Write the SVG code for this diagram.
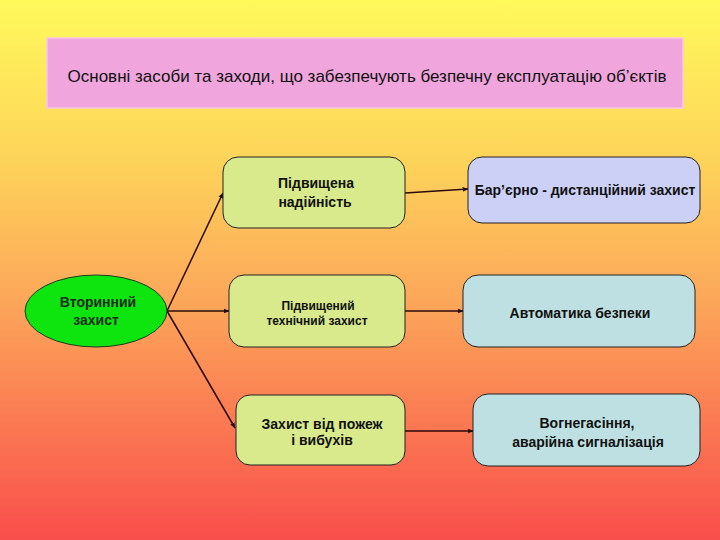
<svg xmlns="http://www.w3.org/2000/svg" width="720" height="540" viewBox="0 0 720 540">
<defs>
<linearGradient id="bg" x1="0" y1="0" x2="0" y2="1">
<stop offset="0" stop-color="#FFFA5C"/>
<stop offset="0.3" stop-color="#FDD35A"/>
<stop offset="0.55" stop-color="#FCA85A"/>
<stop offset="1" stop-color="#F94E4C"/>
</linearGradient>
<marker id="ah" viewBox="0 0 10 10" refX="9" refY="5" markerWidth="6" markerHeight="6" orient="auto" markerUnits="userSpaceOnUse">
<path d="M0,1 L10,5 L0,9 z" fill="#2a0a0a"/>
</marker>
<style>
text{font-family:"Liberation Sans",Arial,sans-serif;fill:#111;text-anchor:middle}
.b{font-weight:bold;font-size:14px}
.box{stroke:#222;stroke-width:1}
.g{fill:#D8EA8C}
.c{stroke:#2a0a0a;stroke-width:1.5;fill:none;marker-end:url(#ah)}
</style>
</defs>
<rect width="720" height="540" fill="url(#bg)"/>
<g id="title">
<rect x="47" y="38" width="636" height="70" fill="#F0A5DD" stroke="#F6C8E8" stroke-width="1.5"/>
<text x="367" y="82" style="font-size:17px">Основні засоби та заходи, що забезпечують безпечну експлуатацію об’єктів</text>
</g>
<g id="connectors">
<line class="c" x1="167" y1="311" x2="223" y2="193"/>
<line class="c" x1="167" y1="311" x2="229" y2="311"/>
<line class="c" x1="167" y1="311" x2="235" y2="428"/>
<line class="c" x1="405" y1="193" x2="468" y2="189"/>
<line class="c" x1="405" y1="311" x2="463" y2="311"/>
<line class="c" x1="405" y1="431" x2="473" y2="431"/>
</g>
<g id="secondary">
<ellipse cx="96" cy="311" rx="71" ry="36" fill="#0EE40E" stroke="#1a3a1a" stroke-width="1"/>
<text class="b" x="98" y="307" style="fill:#1a2e1a">Вторинний</text>
<text class="b" x="96" y="325" style="fill:#1a2e1a">захист</text>
</g>
<g id="reliability">
<rect class="box g" x="223" y="157" width="182" height="71" rx="15"/>
<text class="b" x="316" y="188">Підвищена</text>
<text class="b" x="315" y="207">надійність</text>
</g>
<g id="technical">
<rect class="box g" x="229" y="275" width="176" height="72" rx="15"/>
<text class="b" x="318" y="310" style="font-size:12px">Підвищений</text>
<text class="b" x="317" y="325" style="font-size:12px">технічний захист</text>
</g>
<g id="fire">
<rect class="box g" x="236" y="395" width="169" height="70" rx="14"/>
<text class="b" x="322" y="429">Захист від пожеж</text>
<text class="b" x="322" y="445">і вибухів</text>
</g>
<g id="barrier">
<rect class="box" x="468" y="157" width="232" height="66" rx="14" fill="#CDD0F6"/>
<text class="b" x="585" y="195">Бар’єрно - дистанційний захист</text>
</g>
<g id="automation">
<rect class="box" x="463" y="275" width="232" height="72" rx="15" fill="#BEE0E2"/>
<text class="b" x="580" y="318">Автоматика безпеки</text>
</g>
<g id="extinguish">
<rect class="box" x="473" y="394" width="227" height="72" rx="15" fill="#BEE0E2"/>
<text class="b" x="587" y="428">Вогнегасіння,</text>
<text class="b" x="588" y="447">аварійна сигналізація</text>
</g>
</svg>
